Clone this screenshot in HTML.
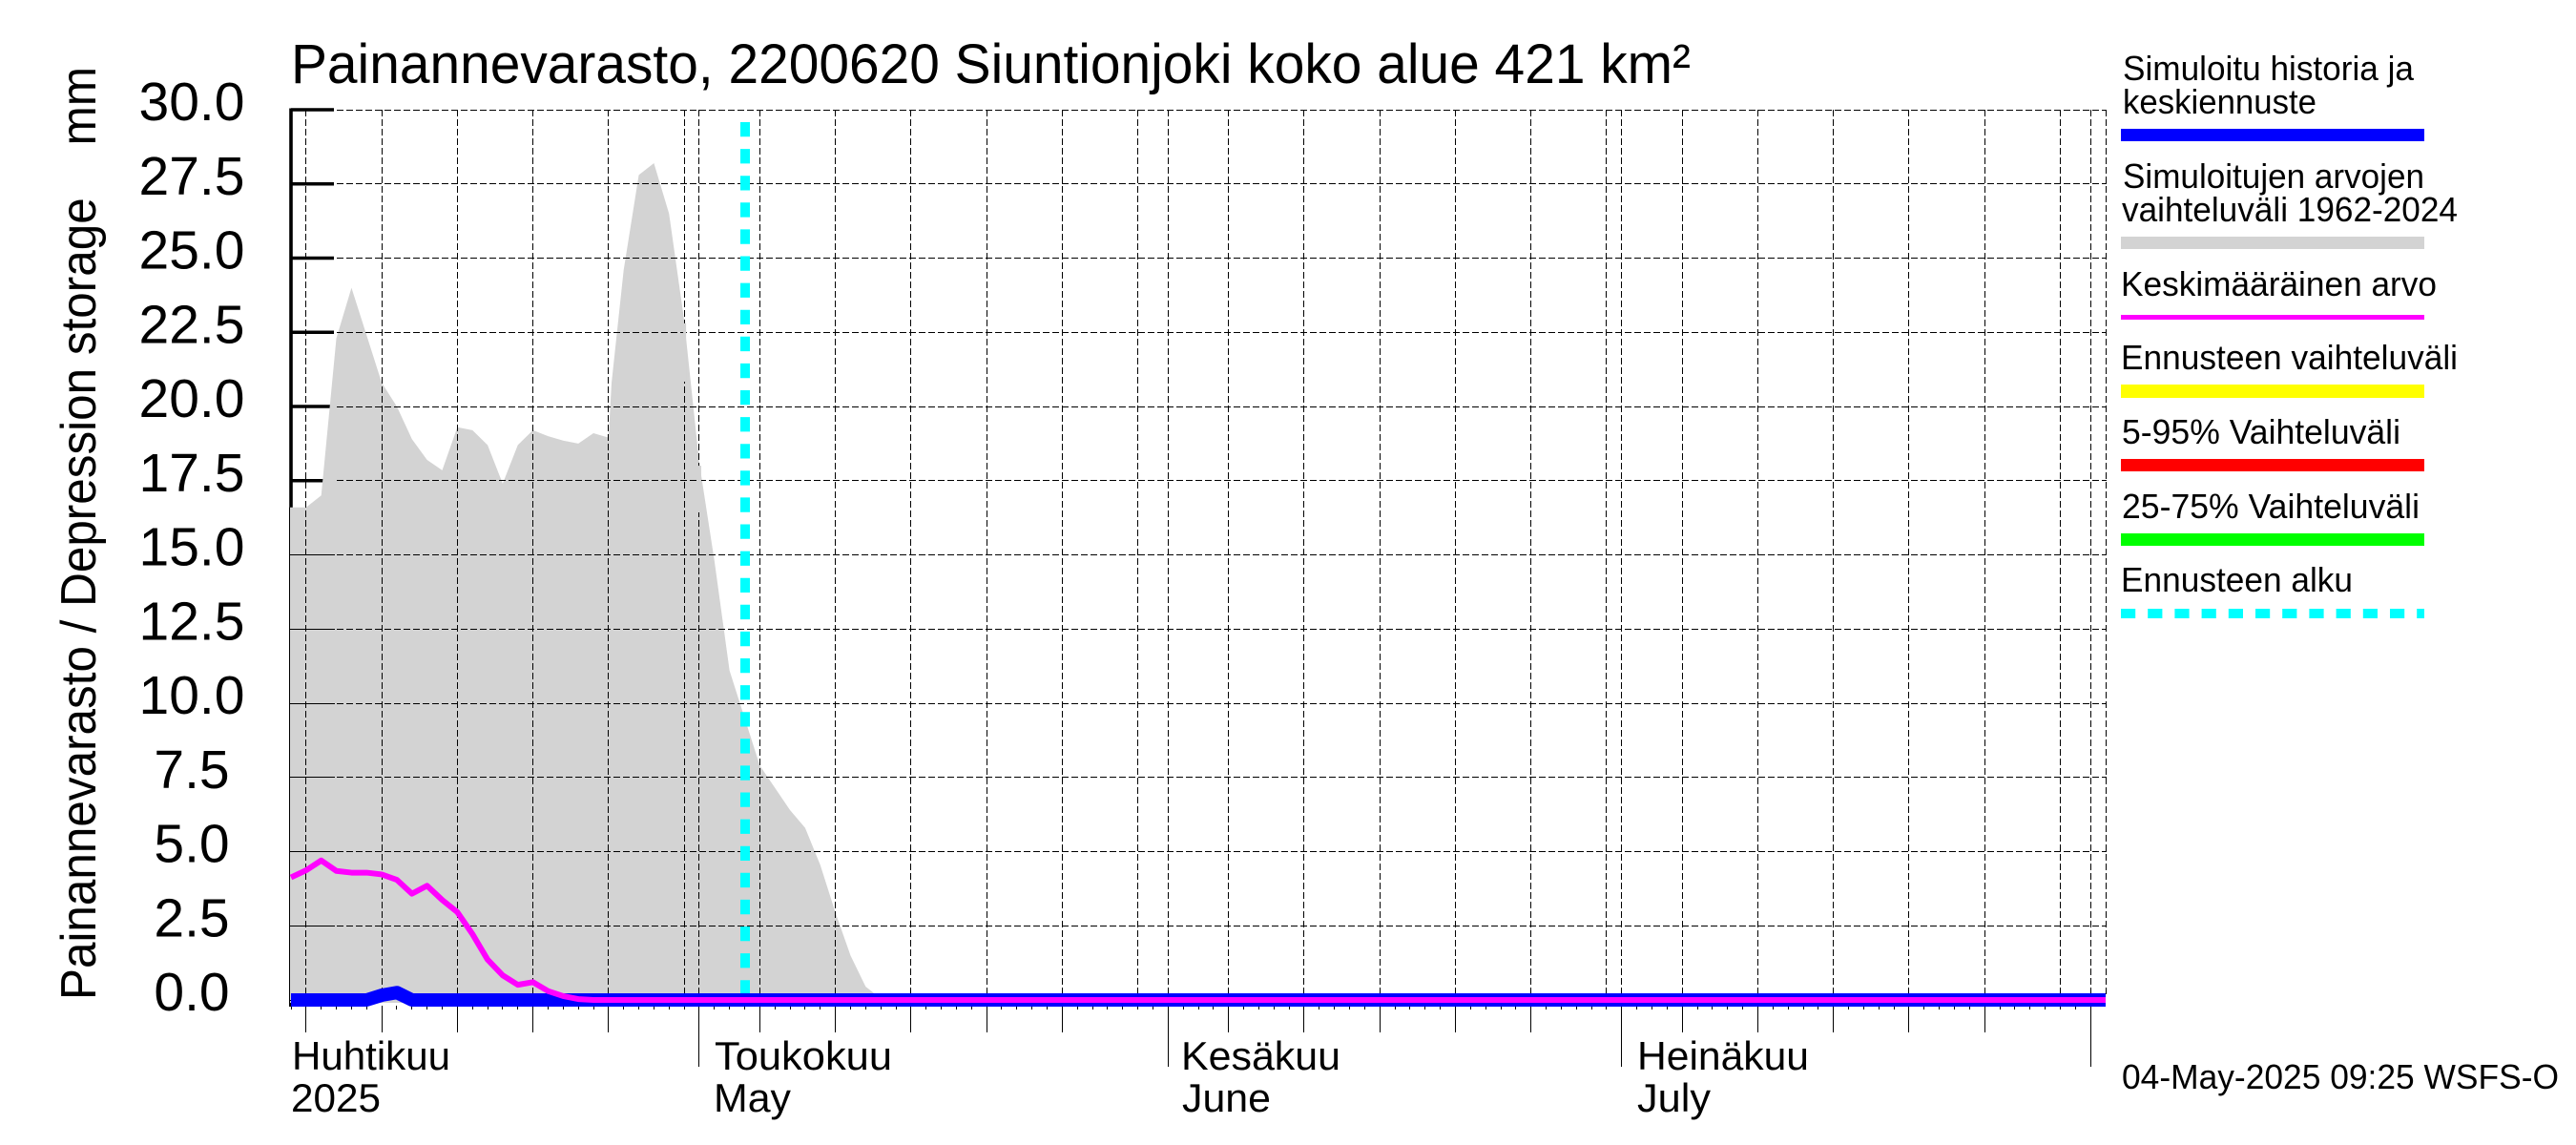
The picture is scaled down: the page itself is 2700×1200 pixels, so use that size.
<!DOCTYPE html>
<html lang="fi">
<head>
<meta charset="utf-8">
<title>Painannevarasto 2200620</title>
<style>
html,body{margin:0;padding:0;background:#fff;}
svg{display:block;}
text{font-family:"Liberation Sans",sans-serif;fill:#000;}
</style>
</head>
<body>
<svg id="chart" xmlns="http://www.w3.org/2000/svg" width="2700" height="1200" viewBox="0 0 2700 1200">
  <rect x="0" y="0" width="2700" height="1200" fill="#fff"/>
  <g id="plot"></g>
  <text x="305" y="87" font-size="58" textLength="1467" lengthAdjust="spacingAndGlyphs">Painannevarasto, 2200620 Siuntionjoki koko alue 421 km²</text>
  <text transform="translate(100,1048) rotate(-90)" font-size="52" textLength="978" lengthAdjust="spacingAndGlyphs">Painannevarasto / Depression storage&#160;&#160;&#160;&#160;mm</text>
  <text x="306" y="1121" font-size="42" textLength="166" lengthAdjust="spacingAndGlyphs">Huhtikuu</text>
  <text x="305" y="1165" font-size="42" textLength="94" lengthAdjust="spacingAndGlyphs">2025</text>
  <text x="749" y="1121" font-size="42" textLength="186" lengthAdjust="spacingAndGlyphs">Toukokuu</text>
  <text x="748" y="1165" font-size="42" textLength="81" lengthAdjust="spacingAndGlyphs">May</text>
  <text x="1238" y="1121" font-size="42" textLength="167" lengthAdjust="spacingAndGlyphs">Kesäkuu</text>
  <text x="1239" y="1165" font-size="42" textLength="93" lengthAdjust="spacingAndGlyphs">June</text>
  <text x="1716" y="1121" font-size="42" textLength="180" lengthAdjust="spacingAndGlyphs">Heinäkuu</text>
  <text x="1716" y="1165" font-size="42" textLength="77" lengthAdjust="spacingAndGlyphs">July</text>
  <text x="2224" y="1141" font-size="36" textLength="458" lengthAdjust="spacingAndGlyphs">04-May-2025 09:25 WSFS-O</text>
  <g>
    <text x="2225" y="84" font-size="36" textLength="305" lengthAdjust="spacingAndGlyphs">Simuloitu historia ja</text>
    <text x="2225" y="119" font-size="36" textLength="203" lengthAdjust="spacingAndGlyphs">keskiennuste</text>
    <rect x="2223" y="135" width="318" height="13" fill="#0000ff"/>
    <text x="2225" y="197" font-size="36" textLength="316" lengthAdjust="spacingAndGlyphs">Simuloitujen arvojen</text>
    <text x="2224" y="232" font-size="36" textLength="352" lengthAdjust="spacingAndGlyphs">vaihteluväli 1962-2024</text>
    <rect x="2223" y="248" width="318" height="13" fill="#d3d3d3"/>
    <text x="2223" y="310" font-size="36" textLength="331" lengthAdjust="spacingAndGlyphs">Keskimääräinen arvo</text>
    <rect x="2223" y="330" width="318" height="5" fill="#ff00ff"/>
    <text x="2223" y="387" font-size="36" textLength="353" lengthAdjust="spacingAndGlyphs">Ennusteen vaihteluväli</text>
    <rect x="2223" y="403" width="318" height="14" fill="#ffff00"/>
    <text x="2224" y="465" font-size="36" textLength="292" lengthAdjust="spacingAndGlyphs">5-95% Vaihteluväli</text>
    <rect x="2223" y="481" width="318" height="13" fill="#ff0000"/>
    <text x="2224" y="543" font-size="36" textLength="312" lengthAdjust="spacingAndGlyphs">25-75% Vaihteluväli</text>
    <rect x="2223" y="559" width="318" height="13" fill="#00ff00"/>
    <text x="2223" y="620" font-size="36" textLength="243" lengthAdjust="spacingAndGlyphs">Ennusteen alku</text>
    <line x1="2223" y1="643" x2="2541" y2="643" stroke="#00ffff" stroke-width="10" stroke-dasharray="15.2 13"/>
  </g>
</svg>
<script>
const yTickValues = [0, 2.5, 5, 7.5, 10, 12.5, 15, 17.5, 20, 22.5, 25, 27.5, 30];
const yTickLabels = ["0.0", "2.5", "5.0", "7.5", "10.0", "12.5", "15.0", "17.5", "20.0", "22.5", "25.0", "27.5", "30.0"];
// Days counted from 4 April 2025
const gridDays = [1, 6, 11, 16, 21, 26, 27, 31, 36, 41, 46, 51, 56, 58, 62, 67, 72, 77, 82, 87, 88, 92, 97, 102, 107, 112, 117, 119, 120];
const fiveDayTickDays = [1, 6, 11, 16, 21, 31, 36, 41, 46, 51, 62, 67, 72, 77, 82, 92, 97, 102, 107, 112];
const monthTickDays = [27, 58, 88, 119];
const lastDay = 120;
const forecastStartDay = 30;
const rangeDays = [0, 1, 2, 3, 4, 5, 6, 7, 8, 9, 10, 11, 12, 13, 14, 15, 16, 17, 18, 19, 20, 21, 21.2, 22, 23, 24, 25, 26, 27, 28, 29, 30, 31, 32, 33, 34, 35, 36, 37, 38, 39, 120];
const rangeValues = [16.6, 16.6, 17.0, 22.3, 24.0, 22.4, 20.8, 20.0, 18.9, 18.2, 17.85, 19.3, 19.2, 18.7, 17.4, 18.7, 19.2, 19.0, 18.85, 18.75, 19.1, 18.95, 20.8, 24.6, 27.8, 28.2, 26.5, 22.9, 18.1, 14.8, 11.1, 9.5, 7.9, 7.15, 6.4, 5.8, 4.55, 2.95, 1.5, 0.45, 0.05, 0];
const historyDays = [0, 5, 6, 7, 8, 120];
const historyValues = [0, 0, 0.16, 0.25, 0, 0];
const meanDays = [0, 1, 2, 3, 4, 5, 6, 7, 8, 9, 10, 11, 12, 13, 14, 15, 16, 17, 18, 19, 20, 120];
const meanValues = [4.13, 4.37, 4.7, 4.35, 4.29, 4.29, 4.23, 4.05, 3.58, 3.85, 3.37, 2.96, 2.22, 1.36, 0.83, 0.51, 0.6, 0.3, 0.13, 0.03, 0, 0];

const xScale = d => 305 + 15.85 * d;
const yScale = v => 1048 - 31.1 * v;
const crisp = p => Math.floor(p) + 0.5;
const NS = 'http://www.w3.org/2000/svg';
const plot = document.getElementById('plot');

function shape(tag, props) {
  const el = document.createElementNS(NS, tag);
  for (const k in props) el.setAttribute(k, props[k]);
  plot.appendChild(el);
  return el;
}
function points(days, values) {
  return days.map((d, i) => xScale(d).toFixed(2) + ',' + yScale(values[i]).toFixed(2)).join(' ');
}

// thick axis and upper tick strokes sit beneath the grey range
let el = shape('line', {x1: 305, y1: yScale(30) - 1.5, x2: 305, y2: 1055, stroke: '#000', 'stroke-width': 3.6});


yTickValues.forEach(v => {
  const t = shape('line', {x1: 305, y1: yScale(v), x2: 350, y2: yScale(v), stroke: '#000', 'stroke-width': 3.4});
  
  
});

// grey simulated range
const rangePts = xScale(0) - 1 + ',1051 ' + (xScale(0) - 1) + ',' + yScale(rangeValues[0]) + ' ' + points(rangeDays, rangeValues) + ' ' + xScale(lastDay) + ',1051';
el = shape('polygon', {points: rangePts, fill: '#d3d3d3'});



// thin axis over the grey
el = shape('line', {x1: 303.5, y1: yScale(rangeValues[0]), x2: 303.5, y2: 1055, stroke: '#000', 'stroke-width': 1});


yTickValues.filter(v => v <= 15).forEach(v => {
  const t = shape('line', {x1: 304, y1: crisp(yScale(v)), x2: 351, y2: crisp(yScale(v)), stroke: '#000', 'stroke-width': 1});
  
  
});

// horizontal grid
yTickValues.filter(v => v > 0).forEach(v => {
  const g = shape('line', {x1: 353, y1: crisp(yScale(v)), x2: xScale(lastDay) + 1, y2: crisp(yScale(v)), stroke: '#000', 'stroke-width': 1, 'stroke-dasharray': '7 3'});
  
  
});
// vertical grid
gridDays.forEach(d => {
  const g = shape('line', {x1: crisp(xScale(d)), y1: yScale(30), x2: crisp(xScale(d)), y2: 1042, stroke: '#000', 'stroke-width': 1, 'stroke-dasharray': '7 3'});
  
  
});
// the grey range hides parts of two gridlines near its falling edge
el = shape('rect', {x: xScale(26) - 1, y: yScale(rangeValues[rangeDays.indexOf(26)]) + 3, width: 3, height: 400 - yScale(rangeValues[rangeDays.indexOf(26)]) - 3, fill: '#d3d3d3'});


el = shape('rect', {x: xScale(27) - 1, y: yScale(rangeValues[rangeDays.indexOf(27)]) + 3, width: 3, height: 537 - yScale(rangeValues[rangeDays.indexOf(27)]) - 3, fill: '#d3d3d3'});



// x ticks
for (let d = 0; d <= lastDay - 1; d++) {
  const t = shape('line', {x1: crisp(xScale(d)), y1: 1054, x2: crisp(xScale(d)), y2: 1058, stroke: '#000', 'stroke-width': 1});
  
  
}
fiveDayTickDays.forEach(d => {
  const t = shape('line', {x1: crisp(xScale(d)), y1: 1054, x2: crisp(xScale(d)), y2: 1082, stroke: '#000', 'stroke-width': 1});
  
  
});
monthTickDays.forEach(d => {
  const t = shape('line', {x1: crisp(xScale(d)), y1: 1054, x2: crisp(xScale(d)), y2: 1118, stroke: '#000', 'stroke-width': 1});
  
  
});

// forecast start
el = shape('line', {x1: xScale(forecastStartDay) + 0.5, y1: 128, x2: xScale(forecastStartDay) + 0.5, y2: 1050, stroke: '#00ffff', 'stroke-width': 10, 'stroke-dasharray': '15.3 12.8'});



// series
el = shape('polyline', {points: points(historyDays, historyValues), fill: 'none', stroke: '#0000ff', 'stroke-width': 14, 'stroke-linejoin': 'round'});


el = shape('polyline', {points: points(meanDays, meanValues), fill: 'none', stroke: '#ff00ff', 'stroke-width': 6, 'stroke-linejoin': 'round'});



// y tick labels
yTickValues.forEach((v, i) => {
  const t = shape('text', {x: 201, y: yScale(v) + 11, 'font-size': 57, 'text-anchor': 'middle'});
  t.textContent = yTickLabels[i];
  
  
});
</script>
</body>
</html>
